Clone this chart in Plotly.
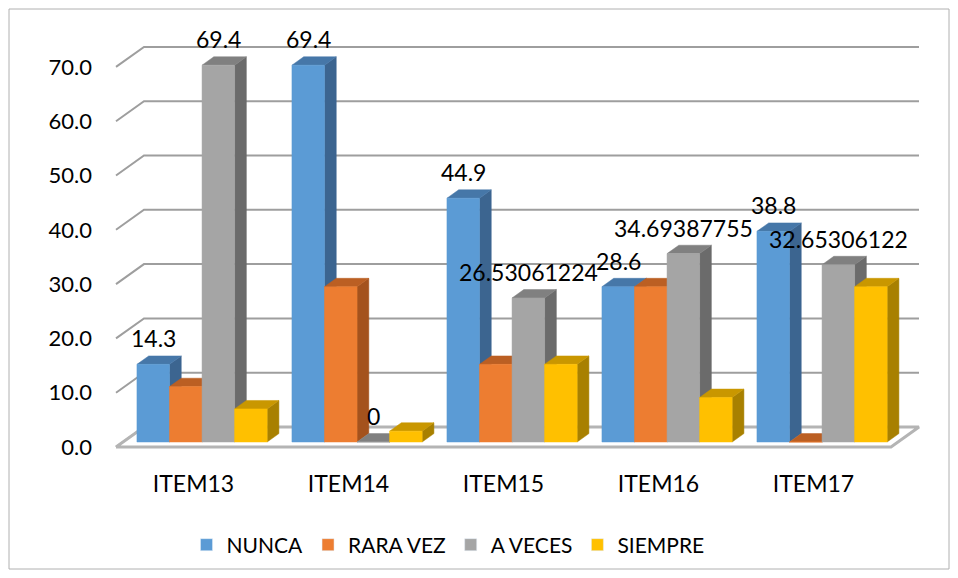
import plotly.graph_objects as go

# ---------------- data ----------------
categories = ["ITEM13", "ITEM14", "ITEM15", "ITEM16", "ITEM17"]
series_names = ["NUNCA", "RARA VEZ", "A VECES", "SIEMPRE"]
nunca = [14.3, 69.4, 44.9, 28.6, 38.8]
rara_vez = [10.2, 28.6, 14.3, 28.6, 0.0]
a_veces = [69.4, 0.0, 26.53061224, 34.69387755, 32.65306122]
siempre = [6.1, 2.0, 14.3, 8.2, 28.6]
nunca_labels = ["14.3", "69.4", "44.9", "28.6", "38.8"]
a_veces_labels = ["69.4", "0", "26.53061224", "34.69387755", "32.65306122"]
y_ticks = [0, 10, 20, 30, 40, 50, 60, 70]
y_tick_text = ["0.0", "10.0", "20.0", "30.0", "40.0", "50.0", "60.0", "70.0"]

series_values = [nunca, rara_vez, a_veces, siempre]
series_labels = [nunca_labels, None, a_veces_labels, None]

# ---------------- styles ----------------
front_colors = ["#5B9BD5", "#ED7D31", "#A5A5A5", "#FFC000"]
top_colors = ["#4677A8", "#BB5F23", "#808080", "#C99700"]
side_colors = ["#3C6590", "#A4521D", "#6B6B6B", "#A88000"]
FONT = "Lato"

# ---------------- layout geometry (pixels) ----------------
W, H = 958, 578
PL, PR, PT, PB = 114, 930, 20, 452
X0PX, CPX = 193.5, 155.0      # category 0 centre, px per category
Y0PX, SPX = 447.0, 5.43       # value 0 on the front plane, px per unit
x_range = [(PL - X0PX) / CPX, (PR - X0PX) / CPX]
y_range = [(Y0PX - PB) / SPX, (Y0PX - PT) / SPX]

dxF, dyF = 28 / CPX, 20 / SPX   # full floor depth, data units
d0, bd = 0.25, 0.42             # bar front depth, bar thickness (fraction)
w = 0.21                        # bar width (category units)
g = 0.01                        # group shift

fig = go.Figure()

# back wall / side wall gridlines
gx, gy = [], []
n = len(categories)
for v in y_ticks:
    gx += [-0.5, -0.5 + dxF, n - 0.5 + dxF, None]
    gy += [v, v + dyF, v + dyF, None]
fig.add_trace(go.Scatter(x=gx, y=gy, mode="lines", line=dict(color="#9E9E9E", width=2),
                         hoverinfo="skip", showlegend=False))

# floor
fig.add_trace(go.Scatter(
    x=[-0.5, n - 0.5, n - 0.5 + dxF, -0.5 + dxF, -0.5],
    y=[0, 0, dyF, dyF, 0],
    mode="lines", fill="toself", fillcolor="white",
    line=dict(color="#B4B4B4", width=3), hoverinfo="skip", showlegend=False))

bx, by = bd * dxF, bd * dyF
annotations = []
for k, vals in enumerate(series_values):
    side_x, side_y, top_x, top_y, fr_x, fr_y = [], [], [], [], [], []
    for i, v in enumerate(vals):
        xa = i + g - 2 * w + k * w + d0 * dxF
        xb = xa + w
        y0 = d0 * dyF
        y1 = v + d0 * dyF
        side_x += [xb, xb + bx, xb + bx, xb, xb, None]
        side_y += [y0, y0 + by, y1 + by, y1, y0, None]
        top_x += [xa, xb, xb + bx, xa + bx, xa, None]
        top_y += [y1, y1, y1 + by, y1 + by, y1, None]
        fr_x += [xa, xb, xb, xa, xa, None]
        fr_y += [y0, y0, y1, y1, y0, None]
        labs = series_labels[k]
        if labs is not None:
            annotations.append(dict(x=(xa + xb) / 2, y=y1, xref="x", yref="y",
                                    text=labs[i], showarrow=False, yanchor="middle",
                                    yshift=26, font=dict(family=FONT, size=23, color="#000000")))
    for xs, ys, col in [(side_x, side_y, side_colors[k]), (top_x, top_y, top_colors[k]),
                        (fr_x, fr_y, front_colors[k])]:
        fig.add_trace(go.Scatter(x=xs, y=ys, mode="lines", fill="toself", fillcolor=col,
                                 line=dict(color=col, width=0.5), hoverinfo="skip",
                                 showlegend=False))

# legend entries
for k, name in enumerate(series_names):
    fig.add_trace(go.Bar(x=[None], y=[None], name=name, marker_color=front_colors[k]))

def px_to_paper_x(px):
    return (px - PL) / (PR - PL)

def px_to_paper_y(py):
    return (PB - py) / (PB - PT)

fig.update_layout(
    width=W, height=H,
    margin=dict(l=PL, r=W - PR, t=PT, b=H - PB, pad=0),
    paper_bgcolor="white", plot_bgcolor="white",
    font=dict(family=FONT, size=22, color="#000000"),
    xaxis=dict(range=x_range, tickvals=list(range(n)), ticktext=categories,
               showgrid=False, zeroline=False, showline=False, ticks="",
               ticklabelstandoff=16, tickfont=dict(size=23), fixedrange=True),
    yaxis=dict(range=y_range, tickvals=y_ticks, ticktext=y_tick_text,
               showgrid=False, zeroline=False, showline=False, ticks="",
               ticklabelstandoff=21, tickfont=dict(size=22), fixedrange=True),
    legend=dict(orientation="h", x=px_to_paper_x(448), xanchor="center",
                y=px_to_paper_y(545), yanchor="middle", font=dict(size=21),
                itemwidth=30, bgcolor="rgba(0,0,0,0)"),
    annotations=annotations,
    shapes=[dict(type="rect", xref="paper", yref="paper",
                 x0=px_to_paper_x(9), x1=px_to_paper_x(949),
                 y0=px_to_paper_y(569), y1=px_to_paper_y(9),
                 line=dict(color="#B0B0B0", width=1), layer="below")],
    showlegend=True,
)

fig.write_html("out.html", config={"displayModeBar": False},
               post_script="document.body.style.margin='0';document.body.style.overflow='hidden';")
